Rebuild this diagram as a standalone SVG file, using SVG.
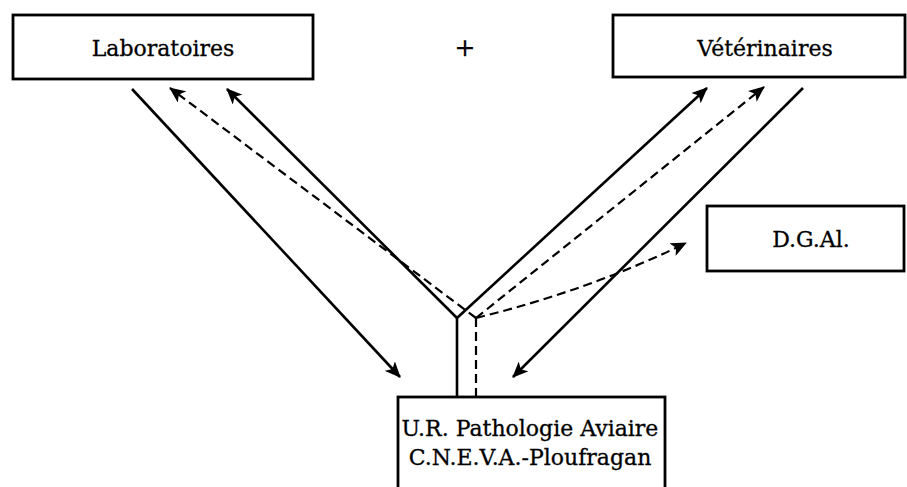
<svg xmlns="http://www.w3.org/2000/svg" width="907" height="487" viewBox="0 0 907 487">
<style>
.box{fill:#fff;stroke:#000;stroke-width:2.8}
.t{font-family:"DejaVu Serif","Liberation Serif",serif;font-size:22px;fill:#000;text-anchor:middle;stroke:#000;stroke-width:0.3}
.s{fill:none;stroke:#000;stroke-width:2.6}
.d{fill:none;stroke:#000;stroke-width:2.2;stroke-dasharray:9 5}
</style>
<defs>
<marker id="ah" viewBox="0 0 16 14" refX="15" refY="7" markerWidth="16" markerHeight="14" markerUnits="userSpaceOnUse" orient="auto">
<path d="M0,0 L16,7 L0,14 L4,7 Z" fill="#000"/>
</marker>
</defs>
<rect width="907" height="487" fill="#fff"/>
<g id="laboratoires">
<rect class="box" x="13" y="15" width="300" height="64"/>
<text class="t" x="163" y="56">Laboratoires</text>
</g>
<g id="plus">
<text class="t" x="465" y="56" style="font-size:25px">+</text>
</g>
<g id="veterinaires">
<rect class="box" x="613" y="15" width="292" height="62"/>
<text class="t" x="765" y="56">Vétérinaires</text>
</g>
<g id="dgal">
<rect class="box" x="707" y="206" width="197" height="65"/>
<text class="t" x="811" y="247">D.G.Al.</text>
</g>
<g id="ur">
<rect class="box" x="398" y="397" width="267" height="100"/>
<text class="t" x="530" y="436">U.R. Pathologie Aviaire</text>
<text class="t" x="530" y="465">C.N.E.V.A.-Ploufragan</text>
</g>
<g id="connectors">
<line class="s" x1="132" y1="89" x2="400" y2="377" marker-end="url(#ah)"/>
<line class="s" x1="803" y1="88" x2="513" y2="377" marker-end="url(#ah)"/>
<line class="s" x1="457" y1="318" x2="227" y2="89" marker-end="url(#ah)"/>
<line class="s" x1="457" y1="318" x2="707" y2="88" marker-end="url(#ah)"/>
<line class="s" x1="457" y1="318" x2="457" y2="397"/>
<line class="d" x1="476" y1="318" x2="170" y2="88" marker-end="url(#ah)"/>
<line class="d" x1="476" y1="318" x2="764" y2="87" marker-end="url(#ah)"/>
<path class="d" d="M476,318 Q590,290 686,243" marker-end="url(#ah)"/>
<line class="d" x1="476" y1="318" x2="476" y2="397"/>
</g>
</svg>
